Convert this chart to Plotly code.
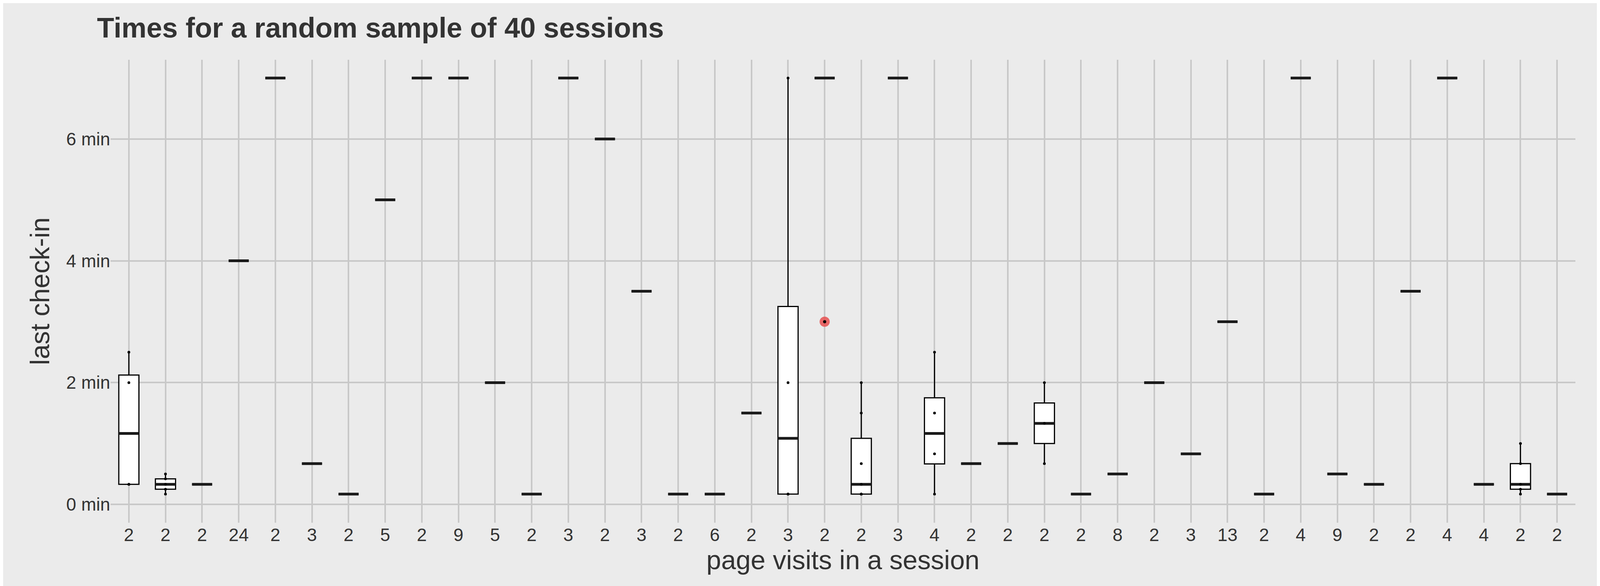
import numpy as np
import plotly.graph_objects as go

visits = ["2","2","2","24","2","3","2","5","2","9","5","2","3","2","3","2","6","2","3","2",
          "2","3","4","2","2","2","2","8","2","3","13","2","4","9","2","2","4","4","2","2"]
checkins = [
    [0.33,0.33,2,2.5],[0.17,0.25,0.33,0.42,0.5],[0.33],[4],[7],[0.67],[0.17],[5],[7],[7],
    [2],[0.17],[7],[6],[3.5],[0.17],[0.17],[1.5],[0.17,0.17,2,7],[7],
    [0.17,0.17,0.17,0.33,0.67,1.5,2],[7],[0.17,0.83,1.5,2.5],[0.67],[1],[0.67,1.33,2],[0.17],[0.5],[2],[0.83],
    [3],[0.17],[7],[0.5],[0.33],[3.5],[7],[0.33],[0.17,0.25,0.33,0.67,1],[0.17],
]
highlight_session = 20
highlight_value = 3

xs = list(range(1, 41))
q1 = [float(np.percentile(v, 25)) for v in checkins]
med = [float(np.percentile(v, 50)) for v in checkins]
q3 = [float(np.percentile(v, 75)) for v in checkins]
lo = [float(min(v)) for v in checkins]
hi = [float(max(v)) for v in checkins]

fig = go.Figure()
fig.add_trace(go.Box(x=xs, q1=q1, median=med, q3=q3, lowerfence=lo, upperfence=hi,
                     line=dict(color="black", width=3), fillcolor="white", width=0.55,
                     whiskerwidth=0, showlegend=False))
# thicker median bars
mx, my = [], []
for x, m in zip(xs, med):
    mx += [x - 0.275, x + 0.275, None]
    my += [m, m, None]
fig.add_trace(go.Scatter(x=mx, y=my, mode="lines", line=dict(color="#1a1a1a", width=7),
                         showlegend=False, hoverinfo="skip"))
px, py = [], []
for x, v in zip(xs, checkins):
    if len(v) > 1:
        px += [x] * len(v)
        py += v
fig.add_trace(go.Scatter(x=px, y=py, mode="markers", marker=dict(color="black", size=7), showlegend=False))
fig.add_trace(go.Scatter(x=[highlight_session], y=[highlight_value], mode="markers",
                         marker=dict(color="rgba(230,80,80,0.85)", size=26), showlegend=False))
fig.add_trace(go.Scatter(x=[highlight_session], y=[highlight_value], mode="markers",
                         marker=dict(color="black", size=8), showlegend=False))

font = "Liberation Sans, Arial, sans-serif"
fig.update_layout(
    autosize=True, paper_bgcolor="#ebebeb", plot_bgcolor="#ebebeb",
    margin=dict(l=275, r=55, t=145, b=170),
    title=dict(text="<b>Times for a random sample of 40 sessions</b>", x=0.0589, xanchor="left",
               y=0.975, yanchor="top", font=dict(family=font, size=72, color="#333333")),
    font=dict(family=font, color="#333333"),
    xaxis=dict(tickmode="array", tickvals=xs, ticktext=visits, range=[0.5, 40.5],
               showgrid=True, gridcolor="#c8c8c8", gridwidth=4, zeroline=False,
               tickfont=dict(size=46, color="#333333"), ticks="",
               title=dict(text="page visits in a session", font=dict(size=68), standoff=8)),
    yaxis=dict(tickvals=[0, 2, 4, 6], ticktext=["0 min", "2 min", "4 min", "6 min"], range=[-0.3, 7.3],
               showgrid=True, gridcolor="#c8c8c8", gridwidth=4, zeroline=False,
               tickfont=dict(size=46, color="#333333"), ticks="",
               title=dict(text="last check-in", font=dict(size=68), standoff=20)),
)
fig.write_html("out.html", default_width="100%", default_height="100vh")
